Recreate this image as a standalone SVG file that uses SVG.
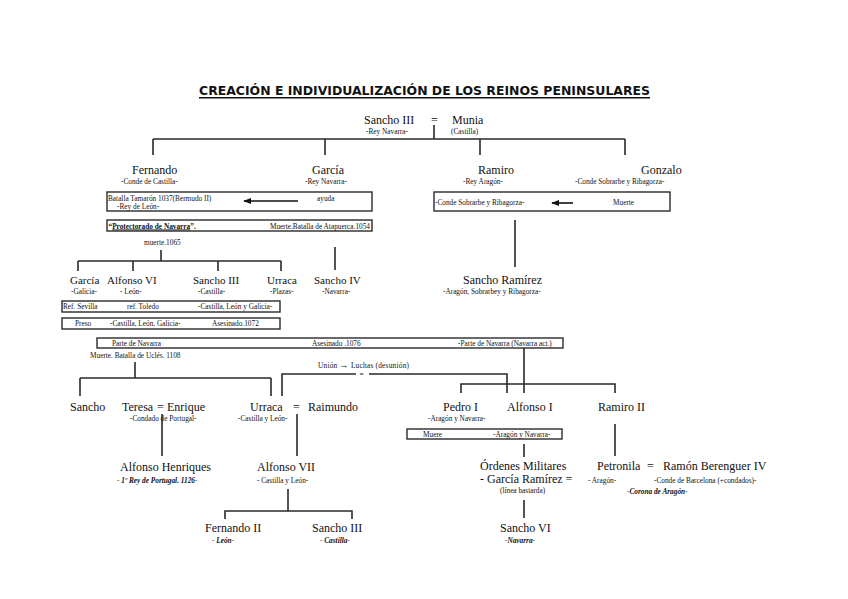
<svg xmlns="http://www.w3.org/2000/svg" width="848" height="599" viewBox="0 0 848 599">
<defs>
<marker id="ah" viewBox="0 0 10 10" refX="9" refY="5" markerWidth="5" markerHeight="5" orient="auto" markerUnits="strokeWidth"><path d="M0,1 L10,5 L0,9 z" fill="#111"/></marker>
</defs>
<style>
text{font-family:"Liberation Serif","Times New Roman",serif;fill:#111}
.n{font-size:12px}
.m{font-size:11px}
.s{font-size:7.3px}
.b{font-size:7.3px}
.bi{font-size:7.3px;font-weight:bold;font-style:italic}
.ttl{font-family:"DejaVu Sans",sans-serif;font-weight:bold;font-size:12px}
.ln{stroke:#2a2a2a;stroke-width:1.6;fill:none}
.box{stroke:#2a2a2a;stroke-width:1.4;fill:none}
.arr{stroke:#111;stroke-width:1.6;fill:none;marker-end:url(#ah)}
</style>
<rect width="848" height="599" fill="#fff"/>
<g id="title">
<text class="ttl" x="199" y="95" textLength="451" lengthAdjust="spacingAndGlyphs">CREACIÓN E INDIVIDUALIZACIÓN DE  LOS REINOS PENINSULARES</text>
<line x1="199" y1="97.8" x2="650" y2="97.8" stroke="#111" stroke-width="1.4"/>
</g>
<g id="connectors">
<path class="ln" d="M434,125 V139 M153,139 H625 M153,139 V155 M325,139 V155 M480,139 V155 M625,139 V155"/>
<path class="ln" d="M161,250 V261 M78,261 H281 M78,261 V271 M133,261 V271 M218,261 V271 M281,261 V271"/>
<path class="ln" d="M335,247 V270 M515,220 V267"/>
<path class="ln" d="M135,362 V378 M80,378 H271 M80,378 V396 M271,378 V396"/>
<path class="ln" d="M282,396 V374 H356 M369,374 H507 V393"/>
<path class="ln" d="M524,348 V393 M461,393 V384 H615 V393"/>
<path class="ln" d="M162,414 V456 M297,414 V456 M615,424 V456 M524,444 V457"/>
<path class="ln" d="M288,489 V511 M225,519 V511 H352 V519 M524,500 V518"/>
</g>
<g id="sancho3-munia">
<text class="n" x="364" y="124">Sancho III</text>
<text class="n" x="431" y="124">=</text>
<text class="n" x="452" y="124">Munia</text>
<text class="s" x="366" y="134">-Rey Navarra-</text>
<text class="s" x="451" y="134">(Castilla)</text>
</g>
<g id="fernando">
<text class="n" x="132" y="174">Fernando</text>
<text class="s" x="121" y="184">-Conde de Castilla-</text>
</g>
<g id="garcia">
<text class="n" x="312" y="174">García</text>
<text class="s" x="305" y="184">-Rey Navarra-</text>
</g>
<g id="ramiro">
<text class="n" x="478" y="174">Ramiro</text>
<text class="s" x="463" y="184">-Rey Aragón-</text>
</g>
<g id="gonzalo">
<text class="n" x="641" y="174">Gonzalo</text>
<text class="s" x="575" y="184">-Conde Sobrarbe y Ribagorza-</text>
</g>
<g id="box-tamaron">
<rect class="box" x="107" y="192" width="265" height="19"/>
<text class="b" x="108" y="200.5">Batalla Tamarón 1037(Bermudo II)</text>
<text class="b" x="117" y="209">-Rey de León-</text>
<line class="arr" x1="298" y1="201" x2="244" y2="201"/>
<text class="b" x="317" y="200.5">ayuda</text>
</g>
<g id="box-protectorado">
<rect class="box" x="107" y="220" width="265" height="11"/>
<text class="b" x="108.5" y="228.5" font-weight="bold">“<tspan text-decoration="underline">Protectorado de Navarra</tspan>”.</text>
<text class="b" x="370" y="228.5" text-anchor="end">Muerte.Batalla de Atapuerca.1054</text>
</g>
<g id="muerte1065"><text class="b" x="144" y="245">muerte.1065</text></g>
<g id="box-sobrarbe">
<rect class="box" x="434" y="192" width="236" height="19"/>
<text class="b" x="435" y="205">-Conde Sobrarbe y Ribagorza-</text>
<line class="arr" x1="573" y1="203" x2="552" y2="203"/>
<text class="b" x="613" y="205">Muerte</text>
</g>
<g id="garcia-galicia">
<text class="m" x="70" y="284">García</text>
<text class="s" x="71" y="294">-Galicia-</text>
</g>
<g id="alfonso6">
<text class="m" x="107" y="284">Alfonso VI</text>
<text class="s" x="120" y="294">- León-</text>
</g>
<g id="sancho2-castilla">
<text class="m" x="193" y="284">Sancho III</text>
<text class="s" x="198" y="294">-Castilla-</text>
</g>
<g id="urraca-plazas">
<text class="m" x="267" y="284">Urraca</text>
<text class="s" x="270" y="294">-Plazas-</text>
</g>
<g id="sancho4">
<text class="m" x="314" y="284">Sancho IV</text>
<text class="s" x="322" y="294">-Navarra-</text>
</g>
<g id="sancho-ramirez">
<text class="n" x="463" y="284">Sancho Ramírez</text>
<text class="s" x="443" y="294">-Aragón, Sobrarbey y Ribagorza-</text>
</g>
<g id="box-sevilla">
<rect class="box" x="62" y="301" width="218" height="11"/>
<text class="b" x="63" y="309">Ref. Sevilla</text>
<text class="b" x="127" y="309">ref. Toledo</text>
<text class="b" x="198" y="309">-Castilla, León y Galicia-</text>
</g>
<g id="box-preso">
<rect class="box" x="62" y="318" width="218" height="11"/>
<text class="b" x="75" y="326">Preso</text>
<text class="b" x="110" y="326">-Castilla, León, Galicia-</text>
<text class="b" x="212" y="326">Asesinado.1072</text>
</g>
<g id="box-navarra">
<rect class="box" x="97" y="338" width="466" height="10"/>
<text class="b" x="112" y="345.5">Parte de Navarra</text>
<text class="b" x="312" y="345.5">Asesinado .1076</text>
<text class="b" x="458" y="345.5">-Parte de Navarra (Navarra act.)</text>
</g>
<g id="ucles"><text class="b" x="90" y="358">Muerte. Batalla de Uclés. 1108</text></g>
<g id="union"><text class="b" x="318" y="368" textLength="91">Unión <tspan font-weight="bold" font-size="9">→</tspan> Luchas (desunión)</text><text class="b" x="359.5" y="377">=</text></g>
<g id="sancho"><text class="n" x="70" y="411">Sancho</text></g>
<g id="teresa-enrique">
<text class="n" x="122" y="411">Teresa</text>
<text class="n" x="157" y="411">=</text>
<text class="n" x="167" y="411">Enrique</text>
<text class="s" x="130" y="421">-Condado de Portugal-</text>
</g>
<g id="urraca-raimundo">
<text class="n" x="250" y="411">Urraca</text>
<text class="n" x="293" y="411">=</text>
<text class="n" x="308" y="411">Raimundo</text>
<text class="s" x="238" y="421">-Castilla y León-</text>
</g>
<g id="pedro1">
<text class="n" x="443" y="411">Pedro I</text>
<text class="s" x="428" y="421">-Aragón y Navarra-</text>
</g>
<g id="alfonso1"><text class="n" x="507" y="411">Alfonso I</text></g>
<g id="ramiro2"><text class="n" x="598" y="411">Ramiro II</text></g>
<g id="box-muere">
<rect class="box" x="407" y="429" width="155" height="10"/>
<text class="b" x="423" y="436.5">Muere</text>
<text class="b" x="493" y="436.5">-Aragón y Navarra-</text>
</g>
<g id="alfonso-henriques">
<text class="n" x="120" y="471">Alfonso Henriques</text>
<text class="bi" x="117" y="483">- 1º Rey de Portugal. 1126-</text>
</g>
<g id="alfonso7">
<text class="n" x="257" y="471">Alfonso VII</text>
<text class="s" x="257" y="483">- Castilla y León-</text>
</g>
<g id="ordenes">
<text class="n" x="480" y="470">Órdenes Militares</text>
<text class="n" x="480" y="483">- García Ramírez =</text>
<text class="s" x="500" y="493">(línea bastarda)</text>
</g>
<g id="petronila-ramon">
<text class="n" x="597" y="470">Petronila</text>
<text class="n" x="647" y="470">=</text>
<text class="n" x="663" y="470">Ramón Berenguer IV</text>
<text class="s" x="588" y="483">- Aragón-</text>
<text class="s" x="654" y="483">-Conde de Barcelona (+condados)-</text>
<text class="bi" x="627" y="494">-Corona de Aragón-</text>
</g>
<g id="fernando2">
<text class="n" x="205" y="532">Fernando II</text>
<text class="bi" x="212" y="543">- León-</text>
</g>
<g id="sancho3-castilla">
<text class="n" x="312" y="532">Sancho III</text>
<text class="bi" x="320" y="543">- Castilla-</text>
</g>
<g id="sancho6">
<text class="n" x="500" y="532">Sancho VI</text>
<text class="bi" x="505" y="543">-Navarra-</text>
</g>
</svg>
